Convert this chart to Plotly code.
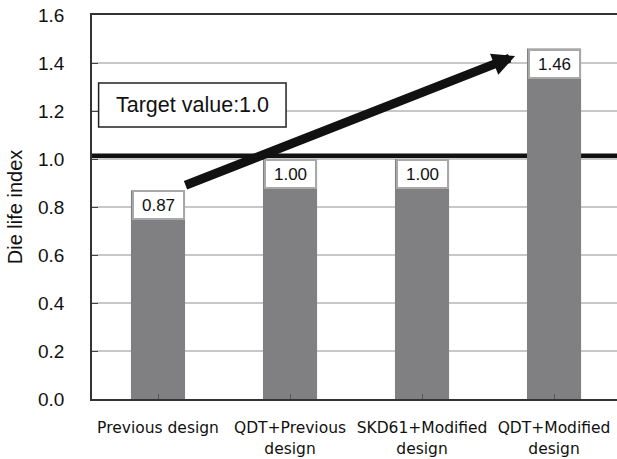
import plotly.graph_objects as go

categories = ["Previous design", "QDT+Previous<br>design", "SKD61+Modified<br>design", "QDT+Modified<br>design"]
die_life_index = [0.87, 1.00, 1.00, 1.46]
y_ticks = [0.0, 0.2, 0.4, 0.6, 0.8, 1.0, 1.2, 1.4, 1.6]
target_line = 1.013
target_text = "Target value:1.0"
arrow_from = (0.197, 0.888)
arrow_to = (2.705, 1.429)

x_idx = list(range(len(categories)))

fig = go.Figure()
fig.add_trace(go.Bar(
    x=x_idx, y=die_life_index, width=0.41,
    marker=dict(color="#808083", line=dict(width=0)),
    hoverinfo="skip",
))

# target horizontal line (below bars)
fig.add_shape(type="line", xref="paper", x0=0, x1=1, yref="y",
              y0=target_line, y1=target_line,
              line=dict(color="#111111", width=5), layer="between")

# value labels
for i, v in zip(x_idx, die_life_index):
    fig.add_annotation(x=i, y=v, xref="x", yref="y", text=f"{v:.2f}",
                       showarrow=False, yanchor="top", xanchor="center",
                       bgcolor="white", bordercolor="#a8a8a8", borderwidth=2,
                       borderpad=1, width=47, height=24,
                       font=dict(family="Liberation Sans, Arial", size=17, color="#111"))

# target box
fig.add_shape(type="rect", xref="x", yref="y", x0=-0.45, x1=0.97, y0=1.133, y1=1.317,
              fillcolor="white", line=dict(color="#222", width=1.5), layer="above")
fig.add_annotation(x=0.26, y=1.225, xref="x", yref="y", text=target_text, showarrow=False,
                   font=dict(family="Liberation Sans, Arial", size=21.5, color="#111"))

# big arrow
fig.add_annotation(x=arrow_to[0], y=arrow_to[1], ax=arrow_from[0], ay=arrow_from[1],
                   xref="x", yref="y", axref="x", ayref="y", text="",
                   showarrow=True, arrowhead=2, arrowsize=0.5, arrowwidth=9,
                   arrowcolor="#111111", standoff=0)

fig.update_layout(
    width=617, height=459,
    margin=dict(l=92, r=0, t=15, b=60, autoexpand=False),
    paper_bgcolor="white", plot_bgcolor="white",
    showlegend=False,
    bargap=0.59,
    font=dict(family="Liberation Sans, Arial", color="#111"),
)
fig.update_xaxes(
    automargin=False,
    range=[-0.5, 3.477], tickmode="array", tickvals=x_idx, ticktext=categories,
    tickson="boundaries", ticks="inside", ticklen=5, tickcolor="#555",
    showline=True, linecolor="#333", linewidth=1.5, mirror=True,
    showgrid=False, zeroline=False,
    tickfont=dict(family="DejaVu Sans", size=15.5, color="#111"),
    ticklabelstandoff=14,
)
fig.update_yaxes(
    automargin=False,
    range=[0, 1.6], tickmode="array", tickvals=y_ticks,
    ticktext=[f"{t:.1f}" for t in y_ticks],
    ticks="inside", ticklen=6, tickcolor="#444",
    showline=True, linecolor="#333", linewidth=1.5,
    showgrid=True, gridcolor="#c8c8c8", gridwidth=1.5, zeroline=False,
    tickfont=dict(family="Liberation Sans, Arial", size=19, color="#111"),
    ticklabelstandoff=22,
    title=dict(text="Die life index", font=dict(family="Liberation Sans, Arial", size=20, color="#111"), standoff=10),
)

fig.write_html("out.html",
               config={"displayModeBar": False},
               post_script="document.body.style.margin='0';document.body.style.overflow='hidden';")
